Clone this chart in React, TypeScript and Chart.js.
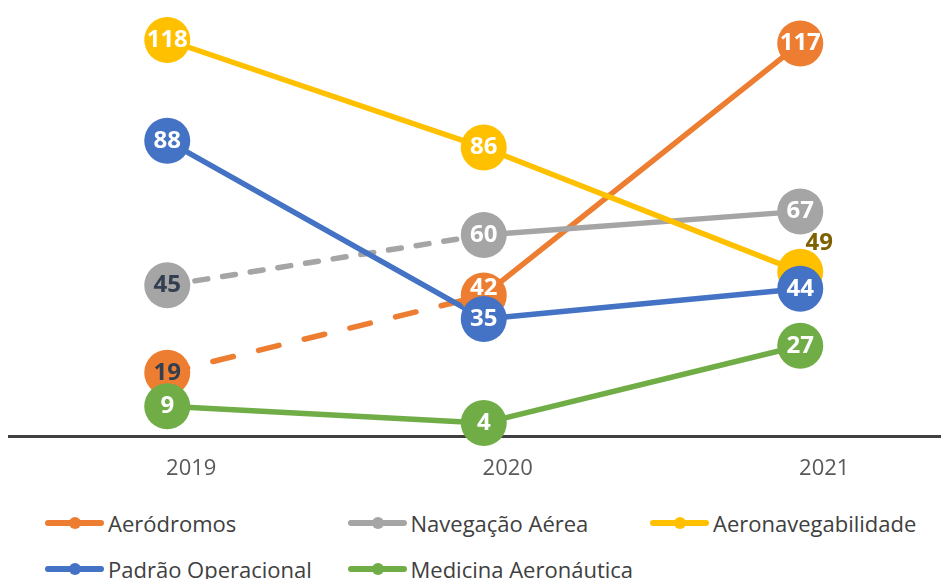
import React, { useEffect, useRef } from "react";
import { Chart, registerables } from "chart.js";

Chart.register(...registerables);

// ---- data ----
const years = ["2019", "2020", "2021"];
const seriesNames = [
  "Aeródromos",
  "Navegação Aérea",
  "Aeronavegabilidade",
  "Padrão Operacional",
  "Medicina Aeronáutica",
];
const aerodromos = [19, 42, 117];
const navegacaoAerea = [45, 60, 67];
const aeronavegabilidade = [118, 86, 49];
const padraoOperacional = [88, 35, 44];
const medicinaAeronautica = [9, 4, 27];

const seriesValues = [aerodromos, navegacaoAerea, aeronavegabilidade, padraoOperacional, medicinaAeronautica];
const seriesColors = ["#ED7D31", "#A5A5A5", "#FFC000", "#4472C4", "#70AD47"];

// first segment dashed for these series (style)
const firstSegmentDash: (number[] | null)[] = [[21, 26], [13, 15], null, null, null];

const FONT = "'Open Sans', 'Noto Sans', sans-serif";
const MARKER_R = 23;

const labelColor = (s: number, p: number) => {
  if ((s === 0 && p === 0) || (s === 1 && p === 0)) return "#333F50";
  if (s === 2 && p === 2) return "#7F6000";
  return "#FFFFFF";
};
const labelShift = (s: number, p: number): [number, number] => {
  if (s === 2 && p === 2) return [19, -28.5];
  if (s === 0 && p === 1) return [0, -7];
  return [0, 0];
};

const markerPlugin = {
  id: "excelMarkers",
  afterDatasetsDraw(chart: any) {
    const ctx = chart.ctx as CanvasRenderingContext2D;
    ctx.save();
    chart.data.datasets.forEach((ds: any, i: number) => {
      const meta = chart.getDatasetMeta(i);
      meta.data.forEach((pt: any) => {
        ctx.beginPath();
        ctx.arc(pt.x, pt.y, MARKER_R, 0, Math.PI * 2);
        ctx.fillStyle = ds.borderColor;
        ctx.fill();
      });
    });
    ctx.font = `bold 24px ${FONT}`;
    ctx.textAlign = "center";
    ctx.textBaseline = "middle";
    chart.data.datasets.forEach((ds: any, i: number) => {
      const meta = chart.getDatasetMeta(i);
      meta.data.forEach((pt: any, j: number) => {
        const [dx, dy] = labelShift(i, j);
        ctx.fillStyle = labelColor(i, j);
        ctx.fillText(String(ds.data[j]), pt.x + dx, pt.y + dy);
      });
    });
    ctx.restore();
  },
};

export default function App() {
  const ref = useRef<HTMLCanvasElement | null>(null);

  useEffect(() => {
    if (!ref.current) return;
    const chart = new Chart(ref.current, {
      type: "line",
      data: {
        labels: years,
        datasets: seriesNames.map((name, i) => ({
          label: name,
          data: seriesValues[i],
          borderColor: seriesColors[i],
          backgroundColor: seriesColors[i],
          borderWidth: 5.5,
          borderCapStyle: "round",
          borderJoinStyle: "round",
          pointRadius: 0,
          pointHoverRadius: 0,
          tension: 0,
          fill: false,
          order: 5 - i,
          segment: {
            borderDash: (c: any) =>
              firstSegmentDash[i] && c.p0DataIndex === 0 ? firstSegmentDash[i] : undefined,
          },
        })) as any,
      },
      options: {
        responsive: false,
        animation: false,
        devicePixelRatio: 1,
        events: [],
        layout: { padding: { left: 9, right: 1.5, top: 16.5, bottom: 0 } },
        plugins: {
          legend: { display: false },
          tooltip: { enabled: false },
        },
        scales: {
          x: {
            offset: true,
            grid: { display: false, drawTicks: false },
            border: { display: true, color: "#404040", width: 3 },
            ticks: {
              color: "#595959",
              font: { family: FONT, size: 22 },
              padding: 19,
              labelOffset: 24,
              maxRotation: 0,
            },
            afterFit: (scale: any) => {
              scale.height = 53.5;
            },
          },
          y: {
            display: false,
            min: 0,
            max: 125,
          },
        },
      },
      plugins: [markerPlugin],
    });
    return () => chart.destroy();
  }, []);

  return (
    <div
      style={{
        position: "fixed",
        left: 0,
        top: 0,
        width: 941,
        height: 579,
        overflow: "hidden",
        background: "#FFFFFF",
      }}
    >
      <canvas ref={ref} width={960} height={490} style={{ display: "block", width: 960, height: 490 }} />
      <div
        style={{
          position: "absolute",
          left: 45,
          top: 500,
          display: "grid",
          gridTemplateColumns: "302.5px 302.5px 302.5px",
          gridAutoRows: "46px",
          fontFamily: FONT,
          fontSize: 22,
          color: "#404040",
          whiteSpace: "nowrap",
        }}
      >
        {seriesNames.map((n, i) => (
          <div key={n} style={{ display: "flex", alignItems: "center" }}>
            <span
              style={{
                position: "relative",
                display: "inline-block",
                flex: "none",
                width: 59,
                height: 6,
                background: seriesColors[i],
                borderRadius: 3,
                marginRight: 4,
              }}
            >
              <span
                style={{
                  position: "absolute",
                  left: 24,
                  top: -3,
                  width: 12,
                  height: 12,
                  borderRadius: "50%",
                  background: seriesColors[i],
                }}
              />
            </span>
            <span>{n}</span>
          </div>
        ))}
      </div>
    </div>
  );
}
